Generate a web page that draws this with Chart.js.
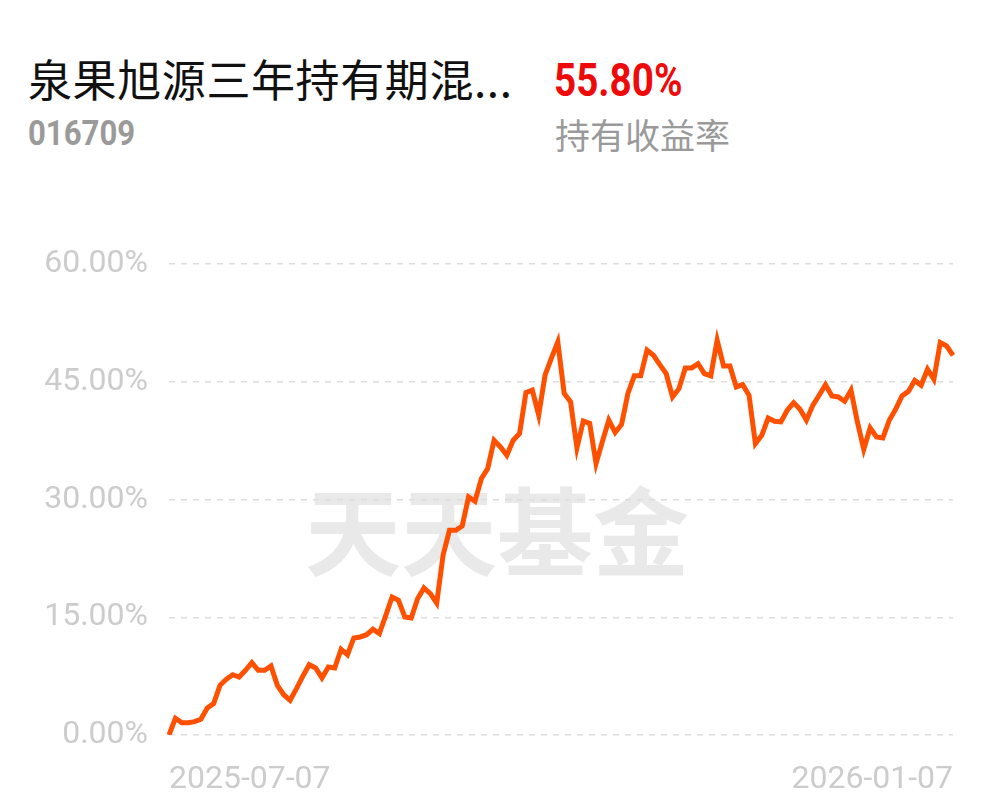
<!DOCTYPE html>
<html>
<head>
<meta charset="utf-8">
<script src="https://cdn.jsdelivr.net/npm/chart.js@4"></script>
<style>
  html, body { margin: 0; padding: 0; background: #fff; }
  body { width: 997px; height: 802px; position: relative; overflow: hidden; }
  .txt { position: absolute; line-height: 1; white-space: nowrap; transform-origin: left top; }
  #title { left: 28px; top: 46px; font: 44px "Noto Sans CJK SC"; color: #111; letter-spacing: 0.6px; }
  #code { left: 28px; top: 113px; font: bold 35px Roboto; color: #9a9a9a; transform: scaleX(0.89); }
  #ret { left: 554px; top: 53px; font: bold 46px Roboto; color: #ee0a0a; transform: scaleX(0.84); }
  #retLabel { left: 555px; top: 108px; font: 35px "Noto Sans CJK SC"; color: #9a9a9a; }
  #mark { left: 305px; top: 457px; font: bold 96px "Noto Sans CJK SC"; color: #e9e9e9; }
  #wrap { position: absolute; left: 0; top: 0; width: 997px; height: 802px; }
</style>
</head>
<body>
<div class="txt" id="title">泉果旭源三年持有期混...</div>
<div class="txt" id="code">016709</div>
<div class="txt" id="ret">55.80%</div>
<div class="txt" id="retLabel">持有收益率</div>
<div class="txt" id="mark">天天基金</div>
<div id="wrap"><canvas id="chart"></canvas></div>
<script>
// cumulative holding return (%), one point per trading day
const returns = [
    0, 2.13, 1.57, 1.57, 1.7, 2.0, 3.44, 3.99, 6.33, 7.1,
    7.68, 7.39, 8.24, 9.21, 8.24, 8.24, 8.79, 6.33, 5.13, 4.42,
    5.9, 7.5, 8.96, 8.54, 7.26, 8.66, 8.54, 10.92, 10.23, 12.36,
    12.49, 12.78, 13.47, 12.91, 15.2, 17.58, 17.16, 15.03, 14.9, 17.36,
    18.73, 18.0, 16.8, 22.9, 26.08, 26.08, 26.62, 30.32, 29.77, 32.65,
    33.93, 37.55, 36.7, 35.63, 37.55, 38.4, 43.62, 43.93, 40.74, 45.84,
    48.0, 50.08, 43.5, 42.44, 36.58, 40.0, 39.7, 34.58, 37.4, 40.1,
    38.53, 39.55, 43.5, 45.75, 45.75, 49.02, 48.37, 47.18, 46.03, 43.06,
    44.12, 46.76, 46.76, 47.3, 46.03, 45.75, 50.29, 47.01, 47.01, 44.34,
    44.63, 43.28, 37.11, 38.18, 40.38, 39.96, 39.88, 41.37, 42.34, 41.49,
    40.1, 42.0, 43.28, 44.63, 43.19, 43.06, 42.51, 43.91, 39.88, 36.4,
    39.11, 37.96, 37.84, 40.1, 41.49, 43.19, 43.77, 45.17, 44.55, 46.59,
    45.3, 49.98, 49.55, 48.37
];
const xTickLabels = ['2025-07-07', '2026-01-07'];
const yTicks = [0, 15, 30, 45, 60];

const days = returns.map((_, i) => i);

new Chart(document.getElementById('chart'), {
    type: 'line',
    data: {
        labels: days,
        datasets: [{
            data: returns,
            borderColor: '#ff5000',
            borderWidth: 5,
            pointRadius: 0,
            tension: 0,
            fill: false
        }]
    },
    options: {
        responsive: true,
        maintainAspectRatio: false,
        animation: false,
        layout: { padding: { top: 264, right: 44, left: 0, bottom: 0 } },
        plugins: { legend: { display: false }, tooltip: { enabled: false } },
        scales: {
            x: {
                grid: { display: false },
                border: { display: false },
                ticks: {
                    autoSkip: false,
                    maxRotation: 0,
                    align: 'inner',
                    padding: 18,
                    color: '#cccccc',
                    font: { family: 'Roboto', size: 32 },
                    callback: (v, i) => i === 0 ? xTickLabels[0] : (i === returns.length - 1 ? xTickLabels[1] : '')
                },
                afterFit: s => { s.height = 67; }
            },
            y: {
                min: 0,
                max: 60,
                afterBuildTicks: s => { s.ticks = yTicks.map(v => ({ value: v })); },
                grid: { color: '#dddddd', lineWidth: 1.5, drawTicks: false },
                border: { display: false, dash: [6, 6] },
                ticks: {
                    padding: 21,
                    color: '#cccccc',
                    font: { family: 'Roboto', size: 32 },
                    callback: v => v.toFixed(2) + '%'
                },
                afterFit: s => { s.width = 169; }
            }
        }
    }
});
</script>
</body>
</html>
